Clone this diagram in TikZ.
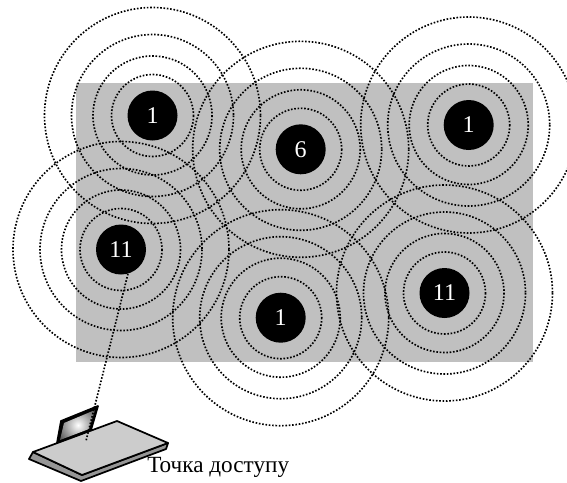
\documentclass[tikz,border=0pt]{standalone}
\usepackage{fontspec}
\setmainfont{Liberation Serif}
\tikzset{
  wave/.style={line width=1.25pt,dash pattern=on 1.2pt off 1.3pt},
  cell/.style={circle,fill=black,text=white,minimum size=37.5pt,inner sep=0pt,font=\fontsize{18}{20}\selectfont},
  panel/.style={draw=black,line width=1.3pt,line join=round}
}
\newcommand{\cellrings}[1]{
  \draw [wave] (#1) circle (41) ;
  \draw [wave] (#1) circle (59.5) ;
  \draw [wave] (#1) circle (81) ;
  \draw [wave] (#1) circle (108) ;
}
\begin{document}
\begin{tikzpicture}[x=0.75pt,y=0.75pt,yscale=-1,xscale=1]
\useasboundingbox (0,0) rectangle (567,482);
%Shape: Rectangle
\fill [fill={rgb,255:red,192;green,192;blue,192}] (76,83) rectangle (533,362) ;
% Cells
\node [cell] (cella) at (152.5,115.5) {1};
\node [cell] (cellb) at (300.7,149.3) {6};
\node [cell] (cellc) at (468.7,125) {1};
\node [cell] (celld) at (121,249.5) {11};
\node [cell] (celle) at (280.7,317.7) {1};
\node [cell] (cellf) at (444.5,293) {11};
\cellrings{cella}
\cellrings{cellb}
\cellrings{cellc}
\cellrings{celld}
\cellrings{celle}
\cellrings{cellf}
%Shape: Screen
\fill [fill=black] (61,421) -- (98,406) -- (91,430) -- (57,443) -- cycle ;
\begin{scope}
\clip (64,423) -- (95,410) -- (89,429) -- (60,440) -- cycle ;
\shade [inner color=white,outer color=black] (78,425) circle (34) ;
\end{scope}
\draw [panel] (61,421) -- (98,406) -- (91,430) -- (57,443) -- cycle ;
%Shape: Base
\draw [panel,fill={rgb,255:red,150;green,150;blue,150}] (33,452) -- (29,459) -- (81,481) -- (166,449) -- (168,443) -- (82,475) -- cycle ;
\draw [panel,fill={rgb,255:red,204;green,204;blue,204}] (33,452) -- (117,421) -- (168,443) -- (82,475) -- cycle ;
% Link
\coordinate (laptop) at (86,441);
\draw [wave] (celld.-74) -- (laptop) ;
% Text Node
\node [anchor=base west,inner sep=0pt,font=\fontsize{17.4}{20}\selectfont] (label) at (147,472) {Точка доступу};
\end{tikzpicture}
\end{document}
